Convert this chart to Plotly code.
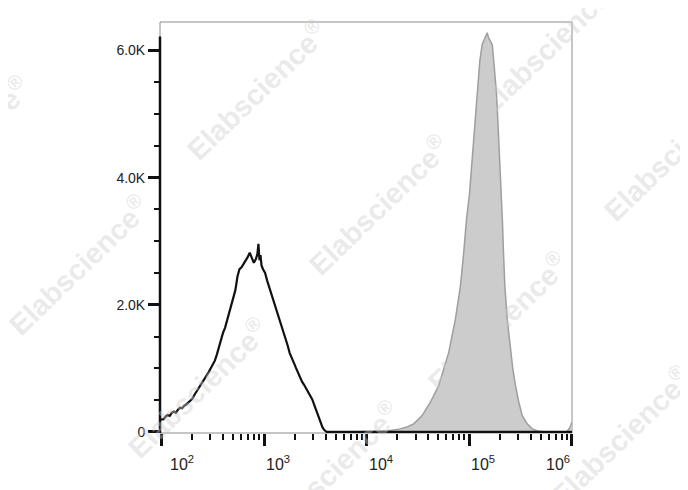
import plotly.graph_objects as go

# ---------------- data ----------------
# unstained / control histogram (black outline): log10(intensity), count
black_log = [1.985, 2.00, 2.02, 2.04, 2.06, 2.08, 2.10, 2.12, 2.14, 2.16, 2.18, 2.20,
             2.22, 2.24, 2.26, 2.28, 2.30, 2.32, 2.34, 2.36, 2.38, 2.40, 2.42, 2.44,
             2.46, 2.48, 2.50, 2.52, 2.54, 2.56, 2.58, 2.60, 2.62, 2.64, 2.66, 2.68,
             2.70, 2.72, 2.74, 2.76, 2.78, 2.80, 2.82, 2.84, 2.86, 2.875, 2.89, 2.90,
             2.92, 2.935, 2.945, 2.955, 2.965, 2.975, 2.99, 3.01, 3.03, 3.05, 3.07,
             3.09, 3.11, 3.13, 3.15, 3.17, 3.19, 3.21, 3.23, 3.25, 3.27, 3.29, 3.31,
             3.33, 3.35, 3.37, 3.39, 3.41, 3.43, 3.45, 3.47, 3.49, 3.51, 3.53, 3.55,
             3.57, 3.59, 3.61, 4.50, 5.50, 6.003]
black_count = [190, 190, 200, 240, 265, 250, 300, 320, 300, 350, 380, 370,
               410, 430, 460, 500, 520, 580, 630, 690, 720, 780, 830, 870,
               940, 1000, 1060, 1120, 1220, 1330, 1470, 1560, 1640, 1760, 1870, 2010,
               2100, 2230, 2440, 2560, 2590, 2640, 2700, 2750, 2820, 2760, 2700, 2660,
               2720, 2800, 2960, 2700, 2780, 2620, 2560, 2500, 2380, 2280, 2170,
               2080, 1980, 1890, 1780, 1660, 1560, 1460, 1360, 1240, 1150, 1090, 1010,
               930, 850, 790, 740, 680, 620, 570, 510, 420, 330, 230, 140,
               70, 25, 0, 0, 0, 0]

# stained histogram (grey filled): log10(intensity), count
grey_log = [3.90, 4.10, 4.20, 4.33, 4.40, 4.459, 4.541, 4.622, 4.703, 4.752, 4.801,
            4.866, 4.915, 4.947, 4.974, 5.003, 5.029, 5.055, 5.078, 5.104, 5.127,
            5.150, 5.165, 5.176, 5.190, 5.205, 5.225, 5.240, 5.267, 5.283, 5.299,
            5.315, 5.325, 5.335, 5.348, 5.371, 5.403, 5.426, 5.452, 5.484, 5.518,
            5.566, 5.615, 5.67, 5.73, 5.95, 5.98, 6.003]
grey_count = [0, 5, 15, 47, 80, 126, 256, 466, 727, 989, 1251,
              1774, 2297, 2821, 3344, 3741, 4266, 4789, 5311, 5836, 6096,
              6180, 6230, 6280, 6200, 6150, 6096, 5836, 5311, 4789, 4266,
              3741, 3300, 2821, 2297, 1774, 1251, 989, 727, 466, 256,
              126, 47, 15, 0, 0, 60, 150]

y_tick_vals = [0, 2000, 4000, 6000]
y_tick_text = ["0", "2.0K", "4.0K", "6.0K"]
x_decades = [2, 3, 4, 5, 6]
x_tick_text = ["10<sup>2</sup>", "10<sup>3</sup>", "10<sup>4</sup>",
               "10<sup>5</sup>", "10<sup>6</sup>"]

watermark_text = "Elabscience<sup>®</sup>"
# watermark centres in window pixels
watermark_pos = [(256, 90), (548, 45), (378, 205), (673, 151), (78, 265),
                 (497, 322), (-41, 146), (197, 388), (620, 436), (329, 471)]

# the page body has an 8px margin: figure occupies window 8..688 x 8..490
OFF = 8
W, H = 688 - OFF, 490 - OFF
L, R, T, B = 160 - OFF, 116, 22 - OFF, 57

fig = go.Figure()

fig.add_trace(go.Scatter(
    x=[10 ** v for v in grey_log], y=grey_count, mode="lines",
    fill="tozeroy", fillcolor="rgb(204,204,204)",
    line=dict(color="rgb(158,158,158)", width=1.5),
    hoverinfo="skip", showlegend=False))

fig.add_trace(go.Scatter(
    x=[10 ** v for v in black_log], y=black_count, mode="lines",
    line=dict(color="#111111", width=2.2),
    hoverinfo="skip", showlegend=False))

minor_x = [m * 10 ** d for d in x_decades[:-1] for m in range(2, 10)]

fig.update_xaxes(
    type="log", range=[1.985, 6.003],
    showgrid=False, zeroline=False, showline=False,
    tickmode="array", tickvals=[10 ** d for d in x_decades],
    ticks="outside", ticklen=12, tickwidth=3, tickcolor="#111",
    showticklabels=False,
    minor=dict(tickmode="array", tickvals=minor_x, ticks="outside",
               ticklen=6, tickwidth=2, tickcolor="#111", showgrid=False),
)

fig.update_yaxes(
    range=[-18, 6450],
    showgrid=False, zeroline=False, showline=False,
    tickmode="array", tickvals=y_tick_vals, ticktext=y_tick_text,
    ticks="outside", ticklen=11, tickwidth=3, tickcolor="#111",
    tickfont=dict(family="Arial, Liberation Sans, sans-serif", size=14, color="#222"),
    minor=dict(dtick=500, ticks="outside", ticklen=5, tickwidth=2,
               tickcolor="#111", showgrid=False),
)

shapes = [
    dict(type="rect", xref="paper", yref="paper", x0=0, x1=1, y0=0, y1=1,
         line=dict(color="#8c8c8c", width=1), layer="below"),
    dict(type="line", xref="paper", yref="y", x0=0, x1=0, y0=-18, y1=6220,
         line=dict(color="#111", width=2.5), layer="above"),
]

annotations = []
for i, (d, t) in enumerate(zip(x_decades, x_tick_text)):
    anchor = "right" if i == len(x_decades) - 1 else "left"
    xs = 6 if i == 0 else 0
    annotations.append(dict(
        x=d, y=0, xref="x", yref="paper", text=t, showarrow=False,
        xanchor=anchor, yanchor="top", xshift=xs, yshift=-18,
        font=dict(family="Arial, Liberation Sans, sans-serif", size=16, color="#222")))

for (px, py) in watermark_pos:
    annotations.append(dict(
        x=(px - OFF - L) / (W - L - R), y=1 - (py - OFF - T) / (H - T - B),
        xref="paper", yref="paper", text=watermark_text, showarrow=False,
        textangle=-44, xanchor="center", yanchor="middle",
        font=dict(family="Arial, Liberation Sans, sans-serif", size=29,
                  color="rgba(205,205,205,0.42)", weight="bold"),
    ))

fig.update_layout(
    width=W, height=H,
    margin=dict(l=L, r=R, t=T, b=B),
    paper_bgcolor="white", plot_bgcolor="white",
    shapes=shapes, annotations=annotations,
    showlegend=False,
)

fig.write_html("out.html")
